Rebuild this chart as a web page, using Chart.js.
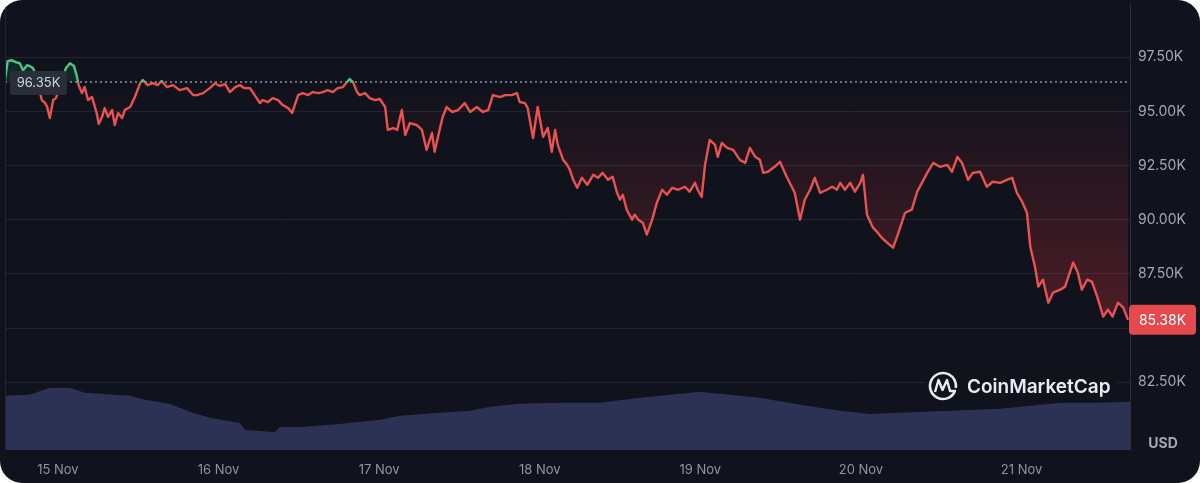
<!DOCTYPE html>
<html>
<head>
<meta charset="utf-8">
<script src="https://cdn.jsdelivr.net/npm/chart.js@4.4.1/dist/chart.umd.min.js"></script>
<style>
  html, body { margin: 0; padding: 0; background: #fff; }
  #card { width: 1200px; height: 483px; border-radius: 22px; overflow: hidden; background: #10131c; }
  canvas { display: block; }
</style>
</head>
<body>
<div id="card"><canvas id="btc" width="1200" height="483"></canvas></div>
<script>
// hours counted from 15 Nov 00:00
const priceHours = [-7.9,-7.5,-6.9,-6.3,-5.7,-5.2,-4.6,-4.2,-3.7,-3.3,
  -2.7,-2.4,-1.9,-1.6,-1.2,-0.7,-0.3,0.3,0.7,1.2,
  1.8,2.4,2.8,3.1,3.6,4.0,4.5,5.1,5.8,6.1,
  6.6,7.0,7.5,8.1,8.5,9.0,9.6,10.0,10.8,11.5,
  12.3,12.7,13.4,14.2,14.9,15.5,16.3,17.2,18.2,19.3,
  20.2,20.8,21.7,22.7,23.5,24.2,25.0,25.7,26.5,27.2,
  27.9,28.7,29.4,30.2,30.6,31.4,32.1,32.9,33.6,34.4,
  35.0,35.4,35.9,36.6,37.4,38.1,38.9,39.6,40.3,41.1,
  41.8,42.6,43.2,43.6,44.1,44.7,45.1,45.9,46.6,47.4,
  48.1,48.9,49.3,50.1,50.7,51.4,51.9,52.6,53.6,54.4,
  55.1,55.9,56.3,57.1,57.5,58.1,58.9,59.8,60.8,61.6,
  62.6,63.5,64.3,65.0,66.1,66.8,67.8,68.6,69.0,69.8,
  70.2,71.0,71.7,72.5,73.2,73.8,74.3,74.7,75.5,76.1,
  76.5,77.0,77.6,78.3,79.1,80.0,80.7,81.4,82.2,82.9,
  83.5,84.0,84.4,85.0,85.8,86.2,86.7,87.4,88.0,88.8,
  89.5,90.3,91.0,91.8,92.7,93.7,94.4,95.2,95.6,96.2,
  96.7,97.4,98.2,98.6,99.2,100.0,100.9,101.9,102.7,103.4,
  104.2,104.9,105.4,106.1,107.1,107.9,108.9,110.1,110.9,111.6,
  112.4,113.1,113.9,114.9,115.7,116.4,116.9,117.6,118.4,119.1,
  119.9,120.3,120.9,121.8,122.5,123.1,123.9,124.8,125.5,126.6,
  127.6,128.4,129.1,129.9,130.8,131.8,132.9,133.6,134.4,135.1,
  136.0,136.7,137.8,138.8,139.7,140.8,141.8,142.6,143.3,144.1,
  144.8,145.3,146.0,146.5,147.2,148.0,148.7,149.8,150.5,151.2,
  151.7,152.4,153.0,153.8,154.5,155.3,156.2,156.9,157.6,158.4,
  159.2,159.9];
const prices = [96440,97320,97360,97270,97220,96900,97130,97090,96990,96630,
  95890,95520,95380,95200,94690,95520,95610,96070,96530,96990,
  97220,97090,96670,96210,95840,96120,95520,95660,94920,94420,
  94740,95150,94740,95060,94370,94920,94690,95060,95200,95660,
  96300,96440,96210,96300,96210,96400,96120,96210,95980,96070,
  95750,95750,95840,96070,96300,96170,96260,95890,96120,96210,
  96070,96070,95750,95380,95520,95430,95610,95520,95290,95150,
  94920,95290,95750,95840,95750,95890,95840,95890,95980,95890,
  96070,96120,96350,96490,96350,95890,95750,95840,95610,95520,
  95570,95200,94140,94230,94140,95060,93910,94460,94370,94140,
  93220,94000,93130,94230,94740,95200,94970,95060,95380,94970,
  95200,94970,95060,95750,95660,95750,95750,95840,95430,95380,
  95150,93770,95200,93820,94230,93130,94140,93450,92760,92530,
  92300,91840,91470,91930,91610,92070,91930,92160,91840,91980,
  91290,90920,91150,90460,90000,90230,90000,89860,89310,90000,
  90780,91380,91150,91470,91380,91520,91290,91700,91380,91050,
  92530,93680,93450,92900,93540,93310,93220,92760,92620,93310,
  92900,92760,92160,92210,92440,92670,91980,91240,90000,90920,
  91380,91930,91240,91380,91520,91380,91700,91380,91700,91290,
  91700,92070,90230,89630,89400,89170,88940,88710,89310,90320,
  90460,91290,91700,92160,92620,92440,92530,92210,92900,92620,
  91840,92160,92210,91520,91750,91700,91840,91930,91240,90820,
  90320,88750,87830,86910,87230,86170,86630,86770,86910,87560,
  88020,87560,86770,87230,87140,86450,85530,85850,85530,86170,
  85940,85380];

// volume band (bn USD, estimated)
const volumeHours = [-7.9,-4.2,-1.2,1.8,4.0,10.8,13.0,16.7,19.7,22.7,
  27.2,28.0,32.4,33.2,36.2,42.1,48.1,51.1,57.1,61.6,
  64.6,69.0,75.0,81.0,87.0,93.0,95.9,98.9,104.9,110.9,
  116.9,121.3,125.8,133.3,140.8,145.3,149.8,155.7,160.2];
const volumes = [60.7,61.8,69.7,69.7,64.0,60.7,56.2,51.7,42.7,36.0,
  30.3,22.5,20.2,25.8,25.8,29.2,33.7,38.2,41.6,43.8,
  48.3,51.7,52.8,52.8,58.4,62.9,65.2,62.9,58.4,50.6,
  43.8,40.4,41.6,43.8,46.1,49.4,52.8,52.8,53.9];

const dayTicks = [0, 24, 48, 72, 96, 120, 144];
const dayLabels = ['15 Nov', '16 Nov', '17 Nov', '18 Nov', '19 Nov', '20 Nov', '21 Nov'];
const priceTicks = [82500, 85000, 87500, 90000, 92500, 95000, 97500];
const openPrice = 96350;
const lastPrice = prices[prices.length - 1];

const green = '#4cc38a';
const red = '#ea5251';

function fmtK(v) {
  return (v / 1000).toFixed(2) + 'K';
}

// green above the open price, red below
function lineColor(ctx) {
  const chart = ctx.chart;
  const a = chart.chartArea;
  if (!a) return red;
  const y0 = chart.scales.y.getPixelForValue(openPrice);
  let f = (y0 - a.top) / (a.bottom - a.top);
  f = Math.min(Math.max(f, 0), 1);
  const g = chart.ctx.createLinearGradient(0, a.top, 0, a.bottom);
  g.addColorStop(0, green);
  g.addColorStop(f, green);
  g.addColorStop(f, red);
  g.addColorStop(1, red);
  return g;
}

function fillBelow(ctx) {
  const chart = ctx.chart;
  if (!chart.chartArea) return 'rgba(234,57,67,0.15)';
  const y0 = chart.scales.y.getPixelForValue(openPrice);
  const y1 = chart.scales.y.getPixelForValue(84500);
  const g = chart.ctx.createLinearGradient(0, y0, 0, y1);
  g.addColorStop(0, 'rgba(234,57,67,0)');
  g.addColorStop(1, 'rgba(234,57,67,0.3)');
  return g;
}

function roundRect(ctx, x, y, w, h, r, color) {
  ctx.fillStyle = color;
  ctx.beginPath();
  ctx.moveTo(x + r, y);
  ctx.arcTo(x + w, y, x + w, y + h, r);
  ctx.arcTo(x + w, y + h, x, y + h, r);
  ctx.arcTo(x, y + h, x, y, r);
  ctx.arcTo(x, y, x + w, y, r);
  ctx.closePath();
  ctx.fill();
}

const overlay = {
  id: 'overlay',
  afterDraw(chart) {
    const ctx = chart.ctx;
    const a = chart.chartArea;
    const y = chart.scales.y;
    ctx.save();

    ctx.strokeStyle = '#22252f';
    ctx.lineWidth = 1;
    ctx.beginPath();
    ctx.moveTo(a.left + 0.5, a.top);
    ctx.lineTo(a.left + 0.5, a.bottom);
    ctx.stroke();

    // watermark
    ctx.fillStyle = '#10131c';
    ctx.fillRect(925, 370, 192, 32);
    ctx.strokeStyle = '#e9ebef';
    ctx.lineWidth = 2.6;
    ctx.beginPath();
    ctx.arc(943, 386, 13, 0.15 * Math.PI, 2.05 * Math.PI);
    ctx.stroke();
    ctx.lineWidth = 2.4;
    ctx.lineJoin = 'round';
    ctx.beginPath();
    ctx.moveTo(935, 392);
    ctx.lineTo(938.5, 380);
    ctx.lineTo(942.5, 390);
    ctx.lineTo(947, 380);
    ctx.lineTo(950, 391);
    ctx.lineTo(956, 391);
    ctx.stroke();
    ctx.fillStyle = '#e9ebef';
    ctx.font = '600 19px Inter';
    ctx.textAlign = 'left';
    ctx.textBaseline = 'middle';
    ctx.fillText('CoinMarketCap', 967, 387);

    // open price tag
    const yo = y.getPixelForValue(openPrice);
    roundRect(ctx, a.left + 5, yo - 11, 57, 24, 3, '#2a2e38');
    ctx.fillStyle = '#cfd3dc';
    ctx.font = '13px Inter';
    ctx.textAlign = 'center';
    ctx.fillText(fmtK(openPrice), a.left + 33.5, yo + 1);

    // last price tag
    const yl = y.getPixelForValue(lastPrice);
    roundRect(ctx, a.right - 1, yl - 15, 67, 30, 4, '#e5484d');
    ctx.fillStyle = '#ffffff';
    ctx.font = '14px Inter';
    ctx.fillText(fmtK(lastPrice), a.right + 32.5, yl + 1);

    ctx.fillStyle = '#a3a8b6';
    ctx.font = 'bold 14px Inter';
    ctx.fillText('USD', 1163, 444);
    ctx.restore();
  }
};

new Chart(document.getElementById('btc'), {
  type: 'line',
  data: {
    datasets: [
      {
        data: priceHours.map((h, i) => ({ x: h, y: prices[i] })),
        borderColor: lineColor,
        backgroundColor: fillBelow,
        borderWidth: 2.4,
        pointRadius: 0,
        tension: 0,
        borderJoinStyle: 'round',
        fill: { target: { value: openPrice }, above: 'rgba(22,199,132,0.12)' },
        order: 1
      },
      {
        data: [{ x: -7.9, y: openPrice }, { x: 160.2, y: openPrice }],
        borderColor: '#8f94a0',
        borderWidth: 1.5,
        borderDash: [2, 3],
        pointRadius: 0,
        fill: false,
        order: 2
      },
      {
        data: volumeHours.map((h, i) => ({ x: h, y: volumes[i] })),
        yAxisID: 'vol',
        borderWidth: 0,
        backgroundColor: '#2d3154',
        pointRadius: 0,
        tension: 0,
        fill: 'origin',
        order: 3
      }
    ]
  },
  options: {
    responsive: false,
    animation: false,
    devicePixelRatio: 1,
    layout: { padding: { left: 5, top: 3, right: 0, bottom: 0 } },
    plugins: { legend: { display: false }, tooltip: { enabled: false } },
    scales: {
      x: {
        type: 'linear',
        min: -7.9,
        max: 160.2,
        grid: { display: false },
        border: { display: false },
        afterBuildTicks: s => { s.ticks = dayTicks.map(v => ({ value: v })); },
        afterFit: s => { s.height = 33; s.paddingLeft = 0; s.paddingRight = 0; },
        ticks: {
          autoSkip: false,
          maxRotation: 0,
          padding: 4,
          color: '#8f94a3',
          font: { family: 'Inter', size: 13 },
          callback: v => dayLabels[dayTicks.indexOf(v)]
        }
      },
      y: {
        position: 'right',
        min: 79370,
        max: 100000,
        afterBuildTicks: s => { s.ticks = priceTicks.map(v => ({ value: v })); },
        afterFit: s => { s.width = 70; s.paddingTop = 0; s.paddingBottom = 0; },
        grid: { color: '#22252f', drawTicks: false },
        border: { display: true, color: '#2a2d38' },
        ticks: {
          padding: 8,
          color: '#a3a8b6',
          font: { family: 'Inter', size: 14 },
          callback: v => fmtK(v)
        }
      },
      vol: {
        display: false,
        min: 0,
        max: 500
      }
    }
  },
  plugins: [overlay]
});
</script>
</body>
</html>
